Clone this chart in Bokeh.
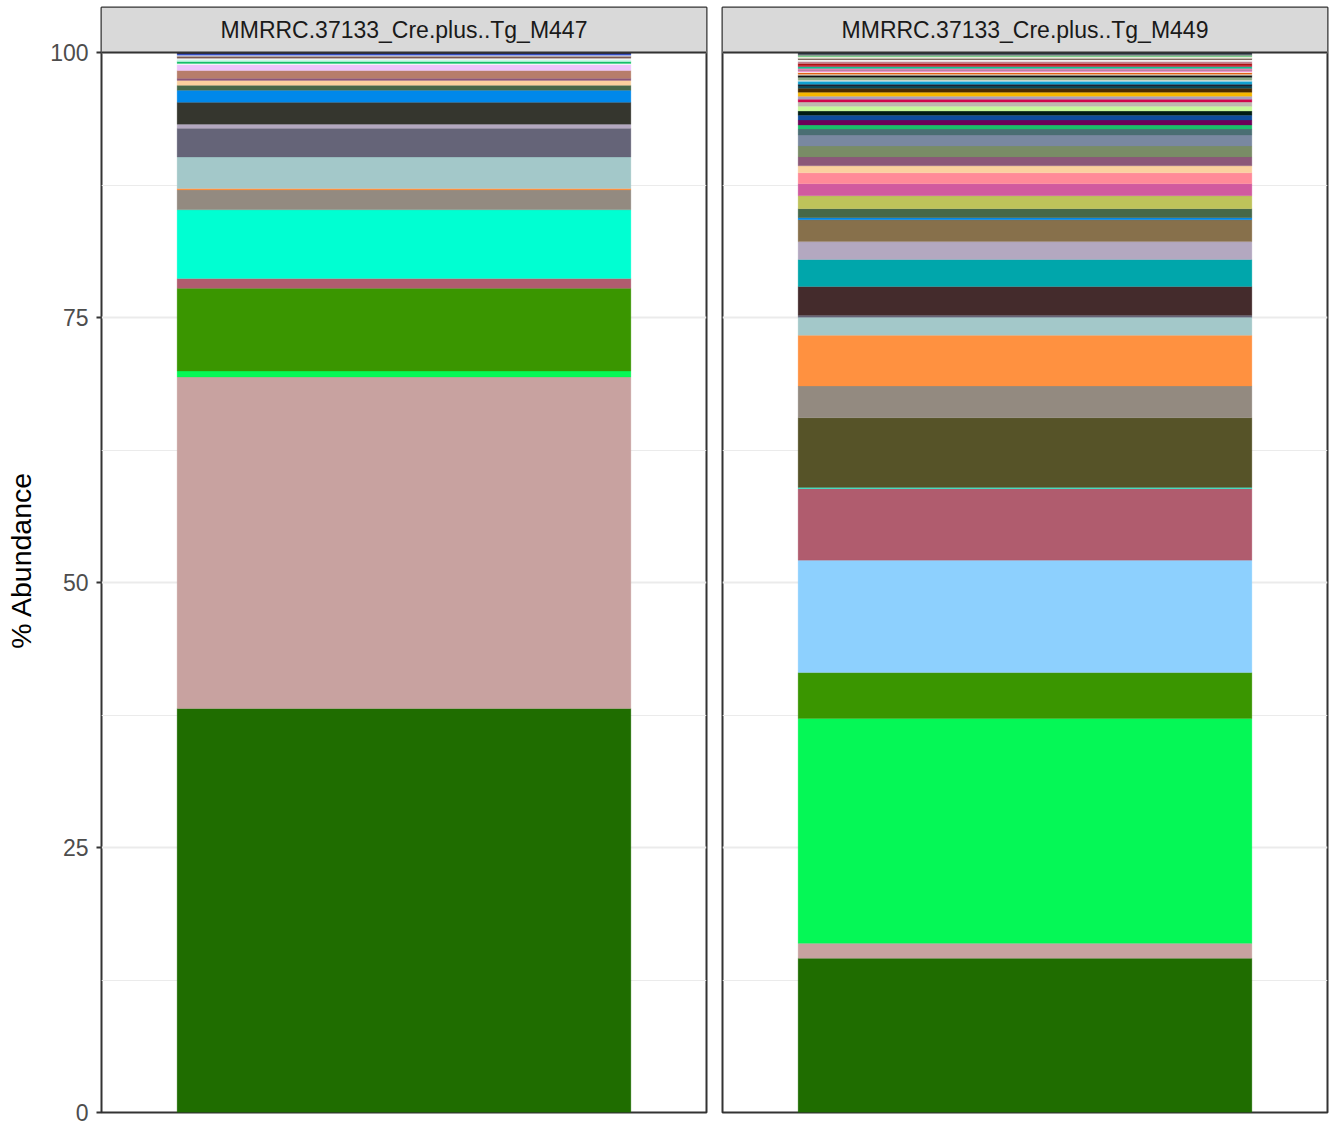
from bokeh.plotting import figure
from bokeh.layouts import row
from bokeh.models import Range1d, FixedTicker, ColumnDataSource
from bokeh.core.properties import value
from bokeh.embed import file_html
from bokeh.resources import INLINE

# ---------------- data ----------------
samples = ["MMRRC.37133_Cre.plus..Tg_M447", "MMRRC.37133_Cre.plus..Tg_M449"]
y_ticks = [0, 25, 50, 75, 100]
y_minor = [12.5, 37.5, 62.5, 87.5]

# % abundance per taxon, stacked bottom -> top
m447_pct = [38.12, 31.27, 0.56, 7.80, 0.94, 6.47, 1.88, 0.12, 2.98, 2.72,
            0.38, 2.07, 1.12, 0.47, 0.47, 0.19, 0.75, 0.56,
            0.09, 0.19, 0.19, 0.12, 0.19, 0.09, 0.12, 0.14]
m447_col = ["#1F6D00", "#C8A2A0", "#05F856", "#3A9600", "#B05C6E", "#00FFD2",
            "#938A80", "#FF9140", "#A3C8C9", "#656478", "#B3A8C0", "#35362E",
            "#0088EA", "#466849", "#FAD09F", "#8B5779", "#B77D6A", "#EEC4FC",
            "#F5FFF8", "#14BE6A", "#C8F8E6", "#F4F4F4", "#7A5A50", "#E8EEF8",
            "#3A55D0", "#2A2A50"]

m449_pct = [14.55, 1.41, 21.22, 4.32, 10.61, 6.76, 0.10, 6.57, 3.00, 4.79,
            1.69, 0.19, 2.72, 2.54, 1.69, 2.07, 0.19, 0.85, 1.22, 1.13,
            1.03, 0.66, 0.84, 1.03, 1.04, 0.56, 0.38, 0.47, 0.46, 0.38,
            0.47, 0.38, 0.28, 0.28, 0.37, 0.38,
            0.22, 0.16, 0.28, 0.09, 0.28, 0.19, 0.09, 0.16, 0.12, 0.09,
            0.09, 0.09, 0.19, 0.09, 0.19, 0.19, 0.19, 0.09, 0.19, 0.09,
            0.09, 0.20]
m449_col = ["#1F6D00", "#C8A2A0", "#05F856", "#3A9600", "#8DD0FE", "#B05C6E",
            "#00FFD2", "#565328", "#938A80", "#FF9140", "#A3C8C9", "#656478",
            "#442B2C", "#00A6AB", "#B3A8C0", "#87704B", "#0088EA", "#466849",
            "#BEC35A", "#D15A9F", "#FF8A98", "#FAD09F", "#8B5779", "#798C66",
            "#7988A0", "#4A6E73", "#1BBE6A", "#6C0058", "#0E4C9C", "#001C14",
            "#C6F99A", "#C0B8B0", "#D0074D", "#A8A0C0", "#F6B800", "#4A2A00",
            "#0A4A5A", "#1A2030", "#10A0D0", "#F4F4F4", "#8AAA88", "#101010",
            "#F0F0E8", "#E06010", "#F8E8F0", "#E020A0", "#A09090", "#FF60B0",
            "#10C090", "#D01040", "#B01010", "#C08090", "#F0F0F0", "#402010",
            "#E8E8D8", "#40C060", "#909090", "#203040"]

# ---------------- style ----------------
FONT = "Liberation Sans"
PX_PER_UNIT = 10.60
STRIP_PX = 45
Y_TOP = 100 + STRIP_PX / PX_PER_UNIT


def stacked(pct, cols):
    bottoms, tops, acc = [], [], 0.0
    for v in pct:
        bottoms.append(acc)
        acc += v
        tops.append(acc)
    return ColumnDataSource(dict(x=[1.0] * len(pct), bottom=bottoms, top=tops, color=cols))


def panel(name, pct, cols, first):
    p = figure(width=721 if first else 609, height=1128,
               output_backend="svg", toolbar_location=None,
               x_range=Range1d(0.4, 1.6), y_range=Range1d(0, Y_TOP),
               min_border_left=101 if first else 1,
               min_border_right=15 if first else 3,
               min_border_top=7, min_border_bottom=16)
    p.background_fill_color = "white"
    p.border_fill_color = "white"
    p.outline_line_color = "#333333"
    p.outline_line_width = 2

    p.xaxis.visible = False
    p.xgrid.visible = False

    tick = FixedTicker(ticks=y_ticks, minor_ticks=y_minor)
    p.yaxis.ticker = tick
    p.ygrid.ticker = tick
    p.ygrid.grid_line_color = "#EBEBEB"
    p.ygrid.grid_line_width = 2.2
    p.ygrid.minor_grid_line_color = "#EBEBEB"
    p.ygrid.minor_grid_line_width = 1.1

    if first:
        ax = p.yaxis[0]
        ax.axis_label = "% Abundance"
        ax.axis_label_text_font = FONT
        ax.axis_label_text_font_size = "28.5px"
        ax.axis_label_text_font_style = "normal"
        ax.axis_label_text_color = "#000000"
        ax.axis_label_standoff = 10
        ax.major_label_text_font = FONT
        ax.major_label_text_font_size = "23px"
        ax.major_label_text_color = "#4D4D4D"
        ax.major_label_standoff = 8
        ax.axis_line_color = None
        ax.major_tick_line_color = "#333333"
        ax.major_tick_line_width = 2
        ax.major_tick_out = 5
        ax.major_tick_in = 0
        ax.minor_tick_line_color = None
    else:
        p.yaxis.visible = False

    src = stacked(pct, cols)
    p.vbar(x="x", width=0.9, bottom="bottom", top="top", source=src,
           fill_color="color", line_color="color", line_width=0.3)

    # facet strip
    p.quad(left=[0.4], right=[1.6], bottom=[100], top=[Y_TOP],
           fill_color="#D9D9D9", line_color=None)
    p.segment(x0=[0.4], x1=[1.6], y0=[100], y1=[100],
              line_color="#333333", line_width=2)
    p.text(x=[1.0], y=[(100 + Y_TOP) / 2], text=[name],
           text_font=value(FONT), text_font_size="23px",
           text_color="#1A1A1A", text_align="center", text_baseline="middle")
    return p


p1 = panel(samples[0], m447_pct, m447_col, True)
p2 = panel(samples[1], m449_pct, m449_col, False)
layout = row(p1, p2)

open("out.html", "w").write(file_html(layout, INLINE))
